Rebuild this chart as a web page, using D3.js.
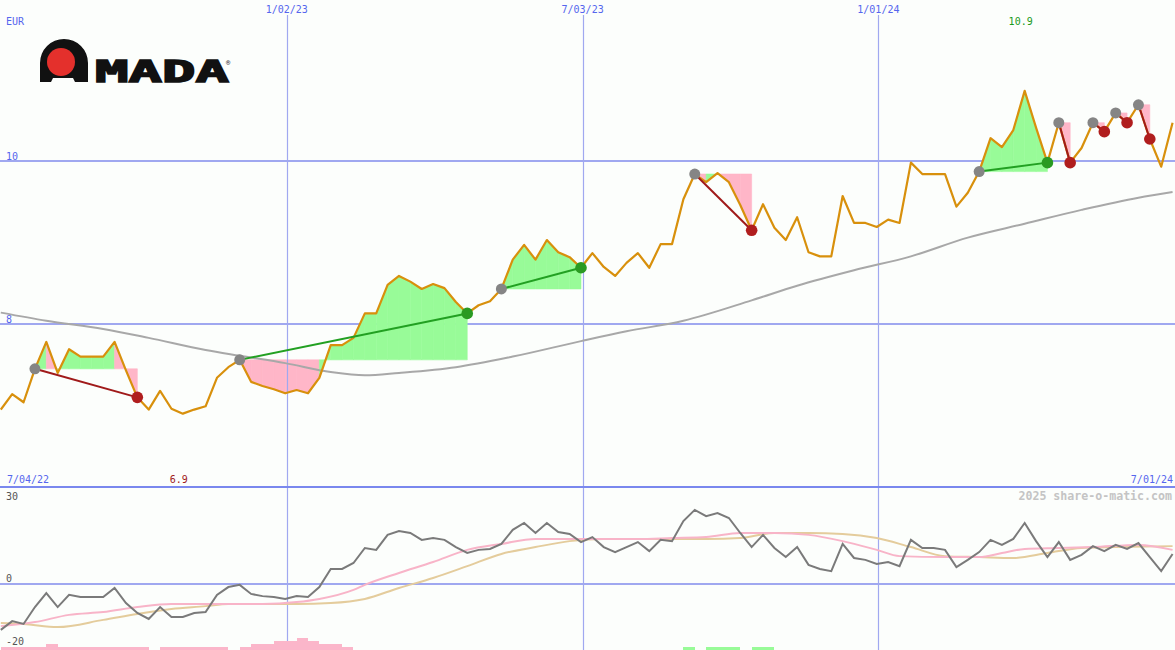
<!DOCTYPE html>
<html><head><meta charset="utf-8">
<script src="https://cdn.jsdelivr.net/npm/d3@7"></script>
<style>
html,body{margin:0;padding:0;background:#fcfefc;}
svg{display:block;}
text{font-family:"DejaVu Sans Mono",monospace;}
</style></head><body>
<svg id="c" width="1175" height="650"></svg>
<script>
// ---------- data ----------
const firstWeek = "2022-07-10";
const price = [
 6.95, 7.14, 7.04, 7.45, 7.78, 7.40, 7.69, 7.60, 7.60, 7.60,
 7.78, 7.43, 7.10, 6.95, 7.18, 6.96, 6.90, 6.95, 6.99, 7.34,
 7.47, 7.56, 7.29, 7.24, 7.20, 7.15, 7.19, 7.15, 7.34, 7.74,
 7.74, 7.83, 8.13, 8.13, 8.48, 8.59, 8.52, 8.43, 8.49, 8.44,
 8.27, 8.13, 8.23, 8.28, 8.43, 8.79, 8.97, 8.79, 9.03, 8.88,
 8.82, 8.69, 8.87, 8.70, 8.59, 8.75, 8.87, 8.69, 8.98, 8.98,
 9.53, 9.84, 9.74, 9.85, 9.74, 9.46, 9.15, 9.47, 9.18, 9.03,
 9.31, 8.88, 8.83, 8.83, 9.57, 9.24, 9.24, 9.19, 9.28, 9.24,
 9.98, 9.84, 9.84, 9.84, 9.44, 9.61, 9.87, 10.28, 10.17, 10.38,
 10.86, 10.41, 9.98, 10.47, 9.98, 10.16, 10.47, 10.36, 10.59, 10.47,
 10.69, 10.27, 9.93, 10.47
];
const maIdx = [0,4,9,13,18,21,25,29,32,35,40,45,51,55,60,66,70,75,80,85,90,95,100,103];
const maVal = [8.14,8.04,7.94,7.83,7.68,7.61,7.52,7.41,7.37,7.40,7.47,7.60,7.79,7.91,8.04,8.29,8.47,8.66,8.83,9.06,9.23,9.40,9.55,9.62];

const tradeStart = [3, 21, 44, 61, 86, 93, 96, 98, 100];
const tradeEnd   = [12, 41, 51, 66, 92, 94, 97, 99, 101];

const momentum = [
 -15.0,-12.2,-13.1,-7.7,-3.2,-7.7,-3.8,-4.5,-4.5,-4.5,
 -1.6,-6.4,-9.6,-11.5,-7.7,-10.9,-10.9,-9.6,-9.3,-3.8,
 -1.3,-0.6,-3.5,-4.2,-4.5,-5.1,-4.2,-4.5,-1.3,4.5,
 4.5,6.4,11.2,10.6,15.4,16.6,16.0,13.8,14.4,13.8,
 11.5,9.6,10.6,10.9,12.5,17.0,19.2,16.0,19.2,16.3,
 15.7,13.1,14.7,11.5,9.9,11.5,13.1,10.2,13.8,13.4,
 19.8,23.4,21.4,22.4,20.8,16.0,11.5,15.4,11.2,8.3,
 11.5,5.8,4.5,3.8,12.5,8.0,7.4,6.1,6.7,5.4,
 13.8,11.2,11.2,10.6,5.1,7.4,9.9,13.8,12.2,14.1,
 19.2,13.4,8.3,13.1,7.4,9.0,11.8,10.2,12.2,10.9,
 12.8,8.3,3.8,9.3
];
const pinkIdx = [0,3,6,9,12,15,18,23,26,28,31,32,35,38,41,44,47,50,53,56,59,62,65,68,71,74,77,79,83,86,88,90,93,96,100,103];
const pinkVal = [-13.8,-12.5,-10.2,-9.3,-7.7,-6.7,-6.7,-6.7,-6.1,-5.1,-2.2,-0.6,3.2,6.7,10.6,12.5,14.1,14.1,14.1,14.1,14.4,14.7,16.0,16.0,15.4,13.4,10.6,8.6,8.3,8.3,9.6,10.9,11.2,11.5,12.2,10.6];
const tanIdx = [0,2,5,9,12,15,18,20,26,29,32,35,38,41,44,47,50,53,59,62,65,68,71,74,77,80,83,86,89,92,95,98,103];
const tanVal = [-12.8,-13.1,-14.1,-11.8,-9.9,-8.3,-7.4,-6.7,-6.7,-6.4,-5.1,-1.6,1.6,5.4,9.3,11.5,13.4,14.1,14.1,14.1,14.4,16.0,16.0,15.7,14.4,11.5,8.6,8.3,8.0,9.6,11.2,11.5,11.8];

const barIdx = [0,1,2,3,4,5,6,7,8,9,10,11,12,14,15,16,17,18,19,21,22,23,24,25,26,27,28,29,30,60,62,63,64,66,67];
const barVal = [-1,-1,-1,-1,-2,-1,-1,-1,-1,-1,-1,-1,-1,-1,-1,-1,-1,-1,-1,-1,-2,-2,-3,-3,-4,-3,-2,-2,-1,1,1,1,1,1,1];

const gridDates = ["2023-01-02","2023-07-03","2024-01-01"];
const edgeDates = ["2022-07-04","2024-07-01"];
const mainTicks = [8, 10];
const lowTicks = [30, 0, -20];
const currency = "EUR";
const watermark = "2025 share-o-matic.com";

// ---------- setup ----------
const W = 1175, H = 650;
const parse = d3.timeParse("%Y-%m-%d");
const fmt = d3.timeFormat("%-m/%d/%y");
const w0 = parse(firstWeek);
const dates = price.map((_, i) => d3.timeDay.offset(w0, 7 * i));
const x = d3.scaleTime()
  .domain([new Date(2022, 6, 9, 12), new Date(2024, 6, 1, 12)])
  .range([0, W]);
const xi = i => x(dates[i]);
const y = d3.scaleLinear().domain([8, 10]).range([324, 161]);
const yl = d3.scaleLinear().domain([0, 30]).range([583, 489.25]);
const yb = d3.scaleLinear().domain([0, 4]).range([650, 638]);

const BLUE_TXT = "#5566ee", GRID = "#a0a8f0";
const ORANGE = "#d8900c", GREENF = "#98fb98", PINKF = "#ffb6c8";
const GREEN = "#22a022", DRED = "#a01a1a";

const svg = d3.select("#c");
svg.append("rect").attr("width", W).attr("height", H).attr("fill", "#fcfefc");

// horizontal gridlines (main) under fills
svg.append("g").selectAll("line").data(mainTicks).join("line")
  .attr("x1", 0).attr("x2", W).attr("y1", d => y(d)).attr("y2", d => y(d))
  .attr("stroke", GRID).attr("stroke-width", 2).attr("shape-rendering", "crispEdges");

// trade fills
const fillG = svg.append("g");
tradeStart.forEach((s, k) => {
  const e = tradeEnd[k];
  const base = price[s];
  for (let i = s; i < e; i++) {
    const pts = [[xi(i), y(base)], [xi(i), y(price[i])], [xi(i + 1), y(price[i + 1])], [xi(i + 1), y(base)]];
    fillG.append("path").attr("d", d3.line()(pts) + "Z")
      .attr("fill", price[i + 1] > base ? GREENF : PINKF)
      .attr("stroke", price[i + 1] > base ? GREENF : PINKF).attr("stroke-width", 0.6);
  }
});

// vertical gridlines
svg.append("g").selectAll("line").data(gridDates).join("line")
  .attr("x1", d => Math.round(x(parse(d))) + 0.5).attr("x2", d => Math.round(x(parse(d))) + 0.5)
  .attr("y1", 15).attr("y2", H)
  .attr("stroke", GRID).attr("stroke-width", 1.2);

// moving average (main)
svg.append("path")
  .attr("d", d3.line().x(d => xi(d[0])).y(d => y(d[1])).curve(d3.curveMonotoneX)(maIdx.map((d, i) => [d, maVal[i]])))
  .attr("fill", "none").attr("stroke", "#a8a8a8").attr("stroke-width", 2);

// price line
svg.append("path")
  .attr("d", d3.line().x((d, i) => xi(i)).y(d => y(d))(price))
  .attr("fill", "none").attr("stroke", ORANGE).attr("stroke-width", 2.2).attr("stroke-linejoin", "round");

// trade lines and dots
tradeStart.forEach((s, k) => {
  const e = tradeEnd[k];
  const win = price[e] > price[s];
  svg.append("line")
    .attr("x1", xi(s)).attr("y1", y(price[s])).attr("x2", xi(e)).attr("y2", y(price[e]))
    .attr("stroke", win ? GREEN : DRED).attr("stroke-width", 2);
});
tradeStart.forEach((s, k) => {
  const e = tradeEnd[k];
  const win = price[e] > price[s];
  svg.append("circle").attr("cx", xi(s)).attr("cy", y(price[s])).attr("r", 5.5).attr("fill", "#858585");
  svg.append("circle").attr("cx", xi(e)).attr("cy", y(price[e])).attr("r", 5.8).attr("fill", win ? "#2a9a22" : "#b01e1e");
});

// separator
svg.append("line").attr("x1", 0).attr("x2", W).attr("y1", 487).attr("y2", 487)
  .attr("stroke", "#7a88ee").attr("stroke-width", 2).attr("shape-rendering", "crispEdges");
// lower zero line
svg.append("line").attr("x1", 0).attr("x2", W).attr("y1", yl(0) + 1).attr("y2", yl(0) + 1)
  .attr("stroke", GRID).attr("stroke-width", 2).attr("shape-rendering", "crispEdges");

// bars at bottom
svg.append("g").selectAll("rect").data(barIdx).join("rect")
  .attr("x", d => xi(d)).attr("width", d => xi(d + 1) - xi(d))
  .attr("y", (d, i) => yb(Math.abs(barVal[i]))).attr("height", (d, i) => yb(0) - yb(Math.abs(barVal[i])))
  .attr("fill", (d, i) => barVal[i] < 0 ? "#fbb6ca" : "#98fb98").attr("shape-rendering", "crispEdges");

// lower indicators
const lineIdx = d3.line().x(d => xi(d[0])).y(d => yl(d[1])).curve(d3.curveMonotoneX);
svg.append("path").attr("d", lineIdx(tanIdx.map((d, i) => [d, tanVal[i]])))
  .attr("fill", "none").attr("stroke", "#e4cc9c").attr("stroke-width", 2);
svg.append("path").attr("d", lineIdx(pinkIdx.map((d, i) => [d, pinkVal[i]])))
  .attr("fill", "none").attr("stroke", "#f8b4c8").attr("stroke-width", 2);
svg.append("path").attr("d", d3.line().x((d, i) => xi(i)).y(d => yl(d))(momentum))
  .attr("fill", "none").attr("stroke", "#7a7a7a").attr("stroke-width", 2);

// ---------- texts ----------
const T = (tx, ty, s, col, anchor, size, weight) => svg.append("text")
  .attr("x", tx).attr("y", ty).text(s).attr("fill", col)
  .attr("text-anchor", anchor || "start").attr("font-size", size || 10)
  .attr("font-weight", weight || "normal");

gridDates.forEach(d => T(x(parse(d)), 13, fmt(parse(d)), BLUE_TXT, "middle"));
T(6, 25, currency, BLUE_TXT);
mainTicks.forEach(v => T(6, y(v) - 1, String(v), BLUE_TXT));
T(7, 483, fmt(parse(edgeDates[0])), BLUE_TXT);
T(1173, 483, fmt(parse(edgeDates[1])), BLUE_TXT, "end");

// high / low labels
const hiI = d3.maxIndex(price), loI = d3.minIndex(price);
T(xi(hiI) - 4, 25, price[hiI].toFixed(1), "#1a9a1a", "middle");
T(xi(loI) - 4, 483, price[loI].toFixed(1), "#a01a1a", "middle");

lowTicks.forEach(v => T(6, Math.max(500, Math.min(647, yl(v) - 1)), String(v), "#555"));
T(1172, 500, watermark, "#c4c4c4", "end", 11.6, "bold");

// ---------- logo ----------
const logo = svg.append("g");
logo.append("path")
  .attr("d", "M40,82 V63 A24,24 0 0 1 88,63 V82 H75 L73,78 H53 L51,82 Z")
  .attr("fill", "#111");
logo.append("circle").attr("cx", 61).attr("cy", 62).attr("r", 14).attr("fill", "#e4302c");
logo.append("text").attr("x", 95).attr("y", 82).text("MADA")
  .attr("font-family", "DejaVu Sans").attr("font-weight", "bold").attr("font-size", 30)
  .attr("textLength", 134).attr("lengthAdjust", "spacingAndGlyphs")
  .attr("fill", "#111").attr("stroke", "#111").attr("stroke-width", 1.4);
logo.append("text").attr("x", 226).attr("y", 65).text("®")
  .attr("font-family", "DejaVu Sans").attr("font-size", 7).attr("fill", "#111");
</script>
</body></html>
